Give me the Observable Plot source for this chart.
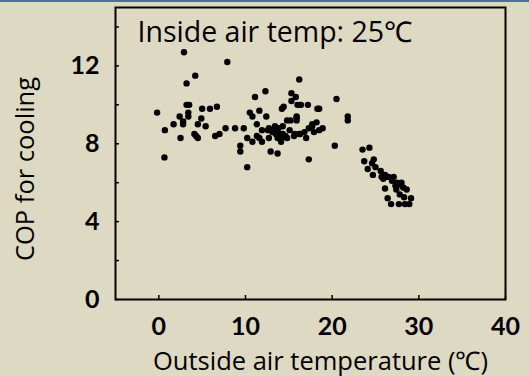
<!DOCTYPE html>
<html>
<head>
<meta charset="utf-8">
<script src="https://cdn.jsdelivr.net/npm/d3@7"></script>
<script src="https://cdn.jsdelivr.net/npm/@observablehq/plot@0.6"></script>
<style>
  html, body { margin: 0; padding: 0; background: #ddd9c3; }
  #topline { position: absolute; left: 0; top: 0; width: 529px; height: 2px; background: #4a6fa5; }
  #chart { position: absolute; left: 0; top: 0; }
</style>
</head>
<body>
<div id="chart"></div>
<div id="topline"></div>
<script>
const outsideTemp = [
  -0.2, 0.7, 0.65, 1.7, 2.4, 2.5, 2.8, 2.8, 2.9, 3.2, 3.2, 3.5, 3.4, 3.4, 4.2, 4.1, 4.3, 4.5, 4.5, 4.9,
  5.0, 5.4, 5.9, 6.5, 6.7, 7.0, 7.7, 7.9, 8.8, 9.4, 9.4, 9.8, 10.2, 10.2, 10.5, 10.8, 10.8, 11.1, 11.3, 11.3,
  11.6, 11.6, 11.9, 11.9, 12.3, 12.4, 12.6, 12.9, 12.7, 13.2, 13.4, 13.5, 13.7, 13.8, 13.9, 14.1, 14.2, 14.4, 14.3, 14.2,
  14.8, 14.8, 15.1, 15.2, 15.3, 15.3, 15.7, 15.8, 15.9, 15.9, 16.0, 16.2, 16.3, 16.3, 16.8, 17.0, 17.2, 17.3, 17.3, 17.7,
  17.9, 18.2, 18.3, 18.5, 18.5, 18.9, 20.3, 20.5, 21.8, 21.8,
  12.7, 14.6, 15.6, 13.1, 13.7, 14.3, 16.2, 17.7, 16.4, 15.9,
  23.5, 24.3, 23.7, 24.1, 24.6, 24.8, 24.7, 25.0, 25.6, 25.7, 25.9, 26.1, 26.3, 26.1, 26.4, 26.5, 26.8, 26.9, 27.1, 27.3,
  27.4, 27.5, 27.8, 27.8, 27.7, 28.0, 28.2, 28.3, 28.4, 28.6, 28.9, 29.1
];
const cop = [
  9.6, 8.7, 7.3, 9.0, 9.4, 8.3, 9.0, 9.15, 12.7, 11.1, 10.0, 10.0, 9.6, 9.4, 11.5, 8.5, 8.4, 8.3, 9.0, 9.3,
  9.8, 8.9, 9.8, 8.4, 9.9, 8.5, 8.8, 12.2, 8.8, 7.9, 7.6, 8.8, 6.8, 8.3, 9.6, 9.4, 8.1, 10.4, 9.0, 8.4,
  9.7, 8.3, 8.7, 8.1, 10.7, 9.4, 8.7, 7.6, 8.3, 8.7, 8.9, 8.5, 7.5, 8.8, 8.5, 8.1, 9.8, 9.9, 8.9, 8.3,
  8.3, 9.2, 8.7, 9.2, 10.6, 10.2, 8.5, 10.4, 9.4, 9.2, 10.0, 11.3, 10.0, 8.5, 8.6, 8.3, 10.0, 7.2, 8.8, 9.0,
  8.6, 9.1, 9.8, 9.8, 8.7, 8.8, 7.9, 10.3, 9.4, 9.2,
  8.8, 8.4, 8.4, 8.6, 8.3, 8.5, 8.5, 8.9, 10.0, 9.35,
  7.7, 7.8, 7.1, 6.7, 7.0, 7.2, 6.4, 6.8, 6.6, 6.3, 6.2, 6.4, 6.3, 5.7, 5.2, 6.3, 4.9, 6.1, 6.3, 5.85,
  5.65, 6.0, 5.9, 5.4, 4.9, 6.0, 5.75, 5.25, 4.9, 5.65, 4.9, 5.2
];
const xTicks = [0, 10, 20, 30, 40];
const yTicks = [0, 4, 8, 12];
const yMinorTicks = [2, 6, 10, 14];
const xLabel = "Outside air temperature (℃)";
const yLabel = "COP for cooling";
const note = "Inside air temp: 25℃";

const points = outsideTemp.map((t, i) => ({t, c: cop[i]}));
const tickFont = "Lato, 'Open Sans', sans-serif";
const textFont = "'Open Sans', Lato, sans-serif";

const chart = Plot.plot({
  width: 529,
  height: 376,
  marginLeft: 115,
  marginRight: 24,
  marginTop: 7,
  marginBottom: 77,
  style: {background: "#ddd9c3", fontFamily: tickFont, color: "black", overflow: "visible"},
  x: {domain: [-5, 40], label: null},
  y: {domain: [0, 15], label: null},
  marks: [
    Plot.axisX(xTicks, {tickSize: -4, text: null, strokeWidth: 1.5, label: null}),
    Plot.axisX(xTicks, {tickSize: 0, tickPadding: 18, fontSize: 25, fontWeight: "bold", label: null}),
    Plot.axisY(yTicks, {tickSize: -4, text: null, strokeWidth: 1.5, label: null}),
    Plot.axisY(yMinorTicks, {tickSize: -4, text: null, strokeWidth: 1.5, label: null}),
    Plot.axisY(yTicks, {tickSize: 0, tickPadding: 16, fontSize: 25, fontWeight: "bold", label: null}),
    Plot.frame({stroke: "black", strokeWidth: 2}),
    Plot.dot(points, {x: "t", y: "c", r: 3.2, fill: "black", stroke: null}),
    Plot.text([note], {frameAnchor: "top-left", dx: 22, dy: 34, textAnchor: "start", lineAnchor: "bottom", fontSize: 28.5, fontFamily: textFont, fill: "black"}),
    Plot.text([xLabel], {frameAnchor: "bottom", dx: 10, dy: 70, textAnchor: "middle", lineAnchor: "bottom", fontSize: 25.5, fontFamily: textFont, fill: "black"}),
    Plot.text([yLabel], {frameAnchor: "left", dx: -82, dy: 15.5, textAnchor: "middle", rotate: -90, lineAnchor: "bottom", fontSize: 25.5, fontFamily: textFont, fill: "black"})
  ]
});
document.getElementById("chart").appendChild(chart);
</script>
</body>
</html>
